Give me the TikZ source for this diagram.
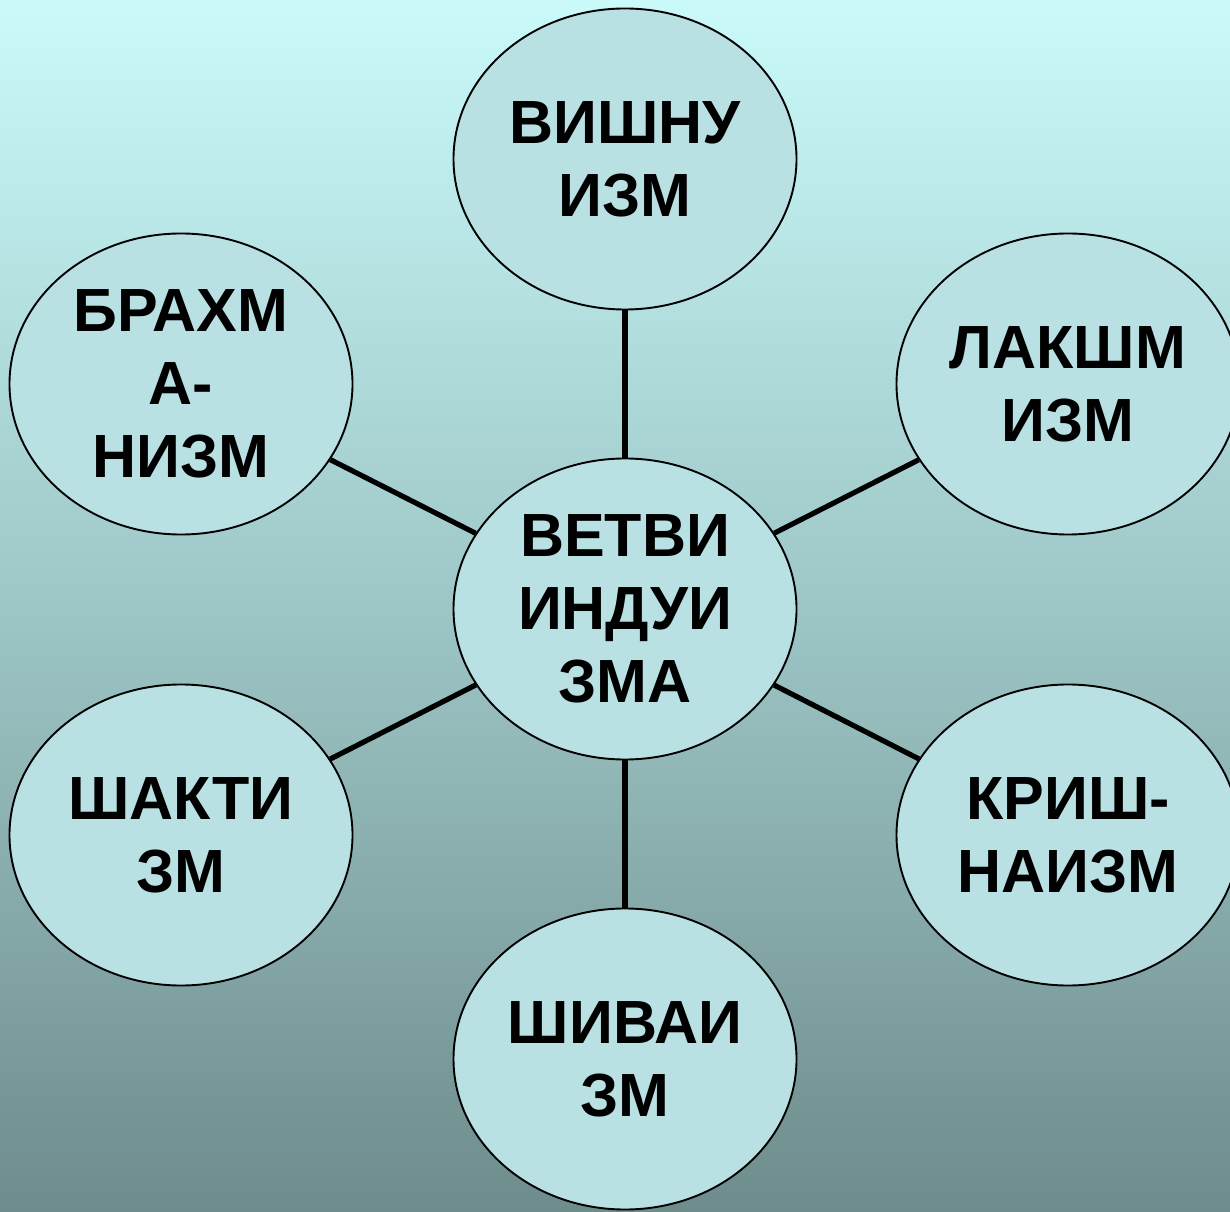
\documentclass[tikz,border=0pt]{standalone}
\usepackage{fontspec}
\setmainfont{Liberation Sans}
\usetikzlibrary{shapes.geometric}
\definecolor{bgtop}{RGB}{202,250,250}
\definecolor{bgmid}{RGB}{158,198,198}
\definecolor{bgbot}{RGB}{110,140,140}
\definecolor{ellfill}{RGB}{185,224,226}
\tikzset{
  bubble/.style={ellipse, draw=black, line width=1.9pt, fill=ellfill,
    minimum width=343pt, minimum height=301pt, inner sep=0pt,
    align=center, font=\fontsize{61}{73}\selectfont\bfseries},
  link/.style={line width=5.2pt, black}
}
\begin{document}
\begin{tikzpicture}[x=1pt,y=1pt]
\useasboundingbox (0,0) rectangle (1230,1211);
\clip (0,0) rectangle (1230,1211);
\shade[top color=bgtop, bottom color=bgbot, middle color=bgmid] (0,0) rectangle (1230,1211);
\node[bubble] (c)  at (625,602)  {ВЕТВИ\\ИНДУИ\\ЗМА};
\node[bubble] (t)  at (625,1052) {ВИШНУ\\ИЗМ};
\node[bubble] (ul) at (181,827)  {БРАХМ\\А-\\НИЗМ};
\node[bubble] (ur) at (1068,827) {ЛАКШМ\\ИЗМ};
\node[bubble] (ll) at (181,376)  {ШАКТИ\\ЗМ};
\node[bubble] (lr) at (1068,376) {КРИШ-\\НАИЗМ};
\node[bubble] (b)  at (625,152)  {ШИВАИ\\ЗМ};
\foreach \n in {t,ul,ur,ll,lr,b} \draw[link] (c) -- (\n);
\end{tikzpicture}
\end{document}
